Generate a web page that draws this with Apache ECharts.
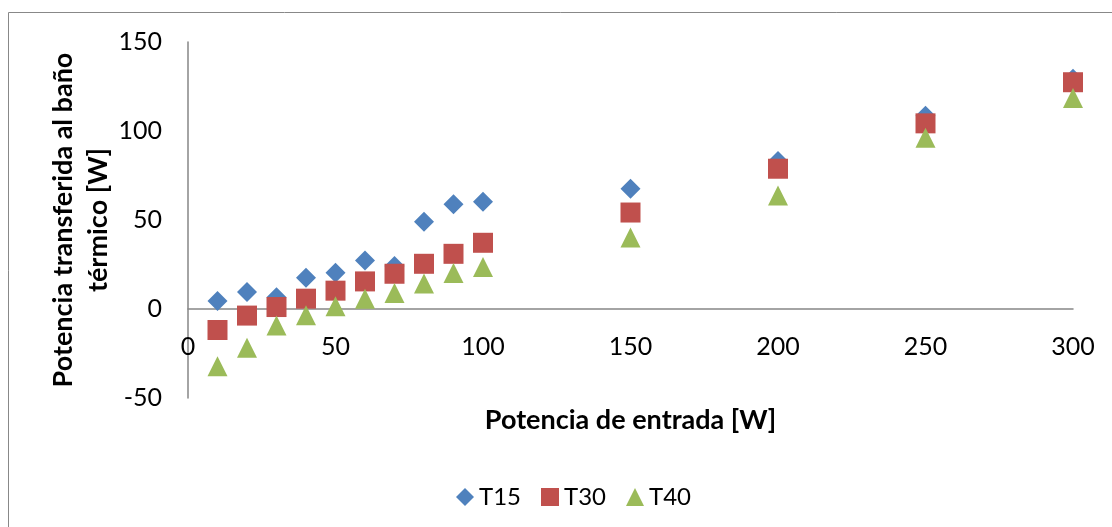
<!DOCTYPE html>
<html>
<head>
<meta charset="utf-8">
<script src="https://cdn.jsdelivr.net/npm/echarts@6/dist/echarts.min.js"></script>
<style>
  html, body { margin: 0; padding: 0; background: #fff; }
  #chart { width: 1112px; height: 527px; }
</style>
</head>
<body>
<div id="chart"></div>
<script>
// Input power [W]
const inputPower = [10, 20, 30, 40, 50, 60, 70, 80, 90, 100, 150, 200, 250, 300];
// Power transferred to the thermal bath [W]
const t15 = [4.5, 9.6, 6.6, 17.6, 20.4, 27.3, 24.2, 49.0, 58.8, 60.3, 67.6, 83.1, 108.6, 129.4];
const t30 = [-11.8, -3.7, 1.1, 5.8, 10.3, 15.5, 19.8, 25.4, 31.0, 37.2, 54.2, 78.8, 104.3, 127.4];
const t40 = [-32.2, -21.8, -9.3, -3.5, 1.5, 5.7, 9.0, 14.3, 20.2, 23.6, 40.1, 63.7, 96.2, 118.5];
const seriesNames = ['T15', 'T30', 'T40'];
const xTicks = { min: 0, max: 300, interval: 50 };
const yTicks = { min: -50, max: 150, interval: 50 };

const pairs = ys => inputPower.map((x, i) => [x, ys[i]]);
const FONT = 'Lato';
const axisColor = '#868686';

const chart = echarts.init(document.getElementById('chart'));
chart.setOption({
  animation: false,
  textStyle: { fontFamily: FONT },
  color: ['#4F81BD', '#C0504D', '#9BBB59'],
  graphic: [{
    type: 'rect',
    shape: { x: 8.5, y: 12.5, width: 1200, height: 600 },
    style: { fill: 'none', stroke: '#888888', lineWidth: 1 },
    silent: true, z: -1
  }],
  grid: { left: 188, top: 42, right: 39, bottom: 129, containLabel: false },
  legend: {
    data: seriesNames,
    left: 451, top: 480,
    itemWidth: 18, itemHeight: 18, itemGap: 20,
    textStyle: { fontFamily: FONT, fontSize: 24, color: '#000' }
  },
  xAxis: {
    type: 'value',
    min: xTicks.min, max: xTicks.max, interval: xTicks.interval,
    name: 'Potencia de entrada [W]',
    nameLocation: 'middle', nameGap: 9,
    nameTextStyle: { fontFamily: FONT, fontSize: 27, fontWeight: 'bold', color: '#000' },
    axisLine: { onZero: true, lineStyle: { color: axisColor, width: 1.5 } },
    axisTick: { show: false },
    splitLine: { show: false },
    axisLabel: { fontFamily: FONT, fontSize: 25, color: '#000', margin: -64 }
  },
  yAxis: {
    type: 'value',
    min: yTicks.min, max: yTicks.max, interval: yTicks.interval,
    name: 'Potencia transferida al baño\ntérmico [W]',
    nameLocation: 'middle', nameGap: 72, nameRotate: 90,
    nameMoveOverlap: false,
    nameTextStyle: { fontFamily: FONT, fontSize: 27, fontWeight: 'bold', color: '#000', lineHeight: 35 },
    axisLine: { show: true, onZero: false, lineStyle: { color: axisColor, width: 1.5 } },
    axisTick: { show: false },
    splitLine: { show: false },
    axisLabel: { fontFamily: FONT, fontSize: 25, color: '#000', margin: 26 }
  },
  series: [
    { name: 'T15', type: 'scatter', symbol: 'diamond', symbolSize: 20, itemStyle: { opacity: 1 }, data: pairs(t15) },
    { name: 'T30', type: 'scatter', symbol: 'rect', symbolSize: 20, itemStyle: { opacity: 1 }, data: pairs(t30) },
    { name: 'T40', type: 'scatter', symbol: 'triangle', symbolSize: 20, itemStyle: { opacity: 1 }, data: pairs(t40) }
  ]
});
</script>
</body>
</html>
